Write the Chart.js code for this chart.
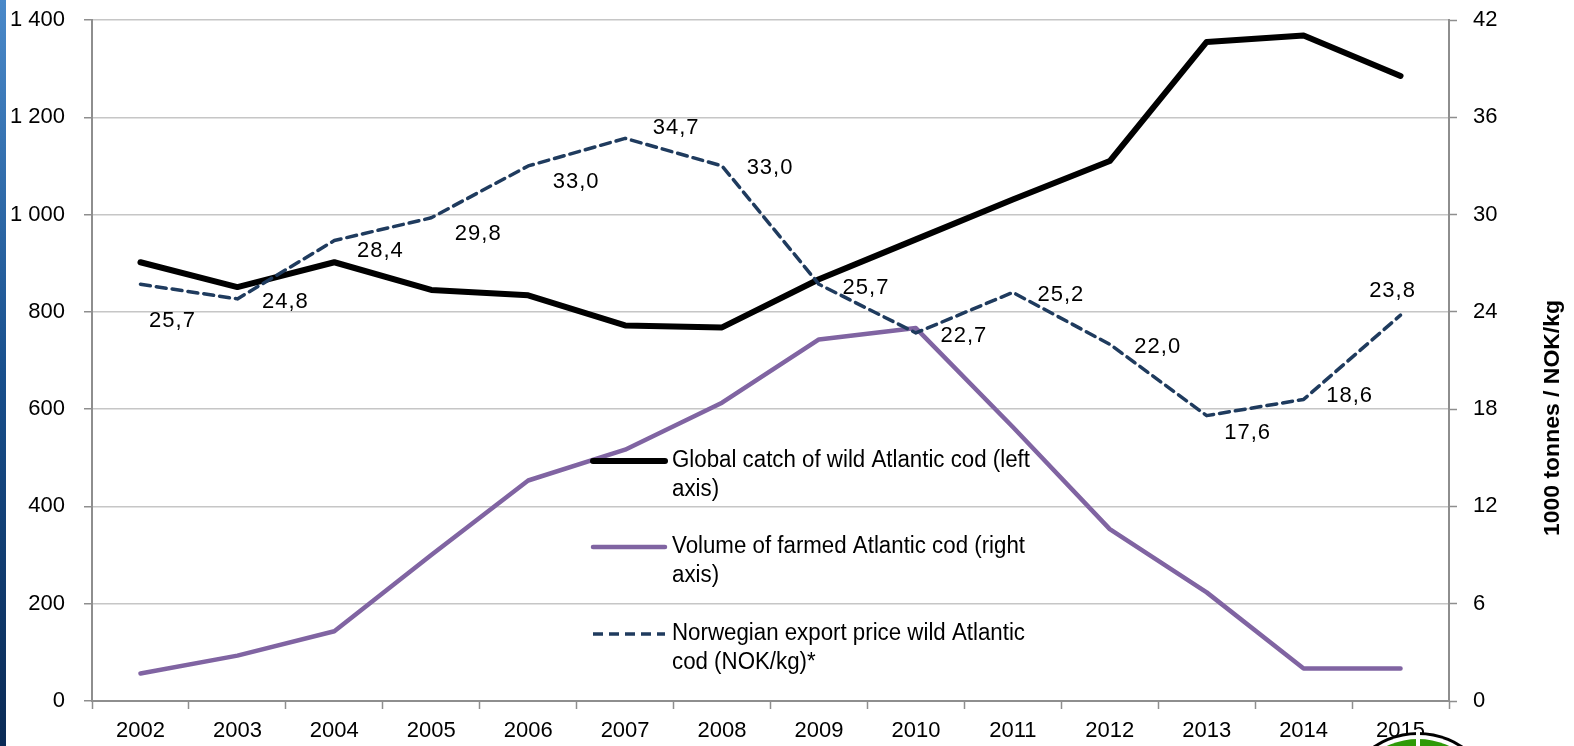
<!DOCTYPE html>
<html>
<head>
<meta charset="utf-8">
<script src="https://cdn.jsdelivr.net/npm/chart.js@4.4.1/dist/chart.umd.min.js"></script>
<style>
    html, body { margin: 0; padding: 0; background: #fff; }
    #wrap { position: relative; width: 1574px; height: 746px; overflow: hidden; }
    #wrap canvas { position: absolute; left: 0; top: 0; }
    #edge { position: absolute; left: 0; top: 0; width: 6px; height: 746px;
            background: linear-gradient(#4a89c9, #184f8c 50%, #0a2a55); }
</style>
</head>
<body>
<div id="wrap">
    <canvas id="chart" width="1574" height="746"></canvas>
    <div id="edge"></div>
</div>
<script>
// years on the x axis
const years = ['2002', '2003', '2004', '2005', '2006', '2007', '2008',
               '2009', '2010', '2011', '2012', '2013', '2014', '2015'];

// global catch of wild Atlantic cod, 1000 tonnes (left axis)
const wildCatch = [902, 851, 902, 845, 834, 772, 768, 867, 949, 1031, 1110, 1355, 1368, 1285];

// volume of farmed Atlantic cod, 1000 tonnes (right axis)
const farmedVolume = [1.7, 2.8, 4.3, 9.0, 13.6, 15.5, 18.4, 22.3, 23.0, 16.9, 10.6, 6.7, 2.0, 2.0];

// Norwegian export price wild Atlantic cod, NOK/kg (right axis)
const exportPrice = [25.7, 24.8, 28.4, 29.8, 33.0, 34.7, 33.0, 25.7, 22.7, 25.2, 22.0, 17.6, 18.6, 23.8];

const leftTicks = [0, 200, 400, 600, 800, 1000, 1200, 1400];
const rightTicks = [0, 6, 12, 18, 24, 30, 36, 42];

const legendItems = [
    ['Global catch of wild Atlantic cod (left', 'axis)'],
    ['Volume of farmed Atlantic cod (right', 'axis)'],
    ['Norwegian export price wild Atlantic', 'cod (NOK/kg)*'],
];

const FONT = "'Liberation Sans', Arial, sans-serif";
const GRID = '#c6c6c6';
const AXIS = '#8e8e8e';

// where each price label sits relative to its point
const priceLabelOffsets = [
    [32, 37], [48, 3], [46, 10], [47, 16], [48, 16], [51, -10], [48, 2],
    [47, 4], [48, 3], [48, 3], [48, 3], [41, 17], [46, -3], [-8, -24],
];

const fmtThousands = (v) => String(v).replace(/\B(?=(\d{3})+(?!\d))/g, ' ');

// keep the tick-label overhang from pushing the plot area down
function fixY(width) {
    return (scale) => {
        scale.width = width;
        scale.paddingTop = 0;
        scale.paddingBottom = 0;
    };
}

const priceLabels = {
    id: 'priceLabels',
    afterDatasetsDraw(chart) {
        const ctx = chart.ctx;
        const meta = chart.getDatasetMeta(2);
        ctx.save();
        ctx.font = '22px ' + FONT;
        ctx.fillStyle = '#000';
        ctx.textAlign = 'center';
        ctx.textBaseline = 'middle';
        if ('letterSpacing' in ctx) ctx.letterSpacing = '1px';
        meta.data.forEach((pt, i) => {
            const [dx, dy] = priceLabelOffsets[i];
            ctx.fillText(exportPrice[i].toFixed(1).replace('.', ','), pt.x + dx, pt.y + dy);
        });
        ctx.restore();
    },
};

const innerLegend = {
    id: 'innerLegend',
    afterDatasetsDraw(chart) {
        const ctx = chart.ctx;
        const x0 = 593, x1 = 665, tx = 672;
        const rows = [461, 547, 634];
        ctx.save();
        ctx.font = '23px ' + FONT;
        const scaleX = 353 / ctx.measureText(legendItems[2][0]).width;
        chart.data.datasets.forEach((ds, i) => {
            const y = rows[i];
            ctx.save();
            ctx.strokeStyle = ds.borderColor;
            ctx.lineWidth = ds.borderWidth;
            ctx.lineCap = ds.borderDash ? 'butt' : 'round';
            ctx.setLineDash(ds.borderDash || []);
            ctx.beginPath();
            ctx.moveTo(x0, y);
            ctx.lineTo(x1, y);
            ctx.stroke();
            ctx.restore();

            ctx.save();
            ctx.translate(tx, y);
            ctx.scale(scaleX, 1);
            ctx.fillStyle = '#000';
            ctx.textBaseline = 'middle';
            ctx.fillText(legendItems[i][0], 0, 0);
            ctx.fillText(legendItems[i][1], 0, 29);
            ctx.restore();
        });
        ctx.restore();
    },
};

const rightTitle = {
    id: 'rightTitle',
    afterDraw(chart) {
        const ctx = chart.ctx;
        const text = '1000 tonnes / NOK/kg';
        ctx.save();
        ctx.translate(1553, 418);
        ctx.rotate(-Math.PI / 2);
        ctx.font = 'bold 22px ' + FONT;
        const s = 236 / ctx.measureText(text).width;
        ctx.scale(s, 1);
        ctx.fillStyle = '#000';
        ctx.textAlign = 'center';
        ctx.textBaseline = 'middle';
        ctx.fillText(text, 0, 0);
        ctx.restore();
    },
};

// bit of the round logo peeking in at the bottom right
const cornerLogo = {
    id: 'cornerLogo',
    beforeDatasetsDraw(chart) {
        const ctx = chart.ctx;
        const cx = 1418, cy = 812, r = 80;
        ctx.save();
        ctx.beginPath();
        ctx.arc(cx, cy, r, 0, Math.PI * 2);
        ctx.fillStyle = '#000';
        ctx.fill();
        ctx.beginPath();
        ctx.arc(cx, cy, r - 3, 0, Math.PI * 2);
        ctx.fillStyle = '#fff';
        ctx.fill();
        ctx.beginPath();
        ctx.arc(cx, cy, r - 7, 0, Math.PI * 2);
        ctx.fillStyle = '#2f9a08';
        ctx.fill();
        ctx.fillStyle = '#fff';
        ctx.fillRect(cx - 2, cy - r, 4, r);
        ctx.restore();
    },
};

new Chart(document.getElementById('chart'), {
    type: 'line',
    data: {
        labels: years,
        datasets: [
            {
                label: 'Global catch of wild Atlantic cod (left axis)',
                data: wildCatch,
                yAxisID: 'y',
                borderColor: '#000000',
                borderWidth: 6,
                order: 3,
            },
            {
                label: 'Volume of farmed Atlantic cod (right axis)',
                data: farmedVolume,
                yAxisID: 'y2',
                borderColor: '#8064a2',
                borderWidth: 4.5,
                order: 2,
            },
            {
                label: 'Norwegian export price wild Atlantic cod (NOK/kg)*',
                data: exportPrice,
                yAxisID: 'y2',
                borderColor: '#1f3b5e',
                borderWidth: 3.5,
                borderDash: [10, 6],
                order: 1,
            },
        ],
    },
    options: {
        responsive: false,
        animation: false,
        devicePixelRatio: 1,
        layout: { padding: { top: 20, right: 0, bottom: 0, left: 0 } },
        elements: {
            point: { radius: 0, hoverRadius: 0 },
            line: { tension: 0, fill: false, borderJoinStyle: 'round', borderCapStyle: 'round' },
        },
        plugins: {
            legend: { display: false },
            tooltip: { enabled: false },
        },
        scales: {
            x: {
                type: 'category',
                offset: true,
                afterFit(scale) { scale.height = 45; },
                grid: { offset: true, drawOnChartArea: false, tickLength: 8, tickColor: AXIS, tickWidth: 1.5 },
                border: { color: AXIS, width: 2 },
                ticks: { color: '#000', font: { family: FONT, size: 22 }, padding: 9, maxRotation: 0, autoSkip: false },
            },
            y: {
                position: 'left',
                min: 0,
                max: 1400,
                afterFit: fixY(92),
                afterBuildTicks(scale) { scale.ticks = leftTicks.map((v) => ({ value: v })); },
                grid: { color: GRID, lineWidth: 1.5, tickLength: 8, tickColor: AXIS, tickWidth: 1.5 },
                border: { color: AXIS, width: 2 },
                ticks: {
                    color: '#000',
                    font: { family: FONT, size: 22 },
                    padding: 19,
                    callback: (v) => fmtThousands(v),
                },
            },
            y2: {
                position: 'right',
                min: 0,
                max: 42,
                afterFit: fixY(125),
                afterBuildTicks(scale) { scale.ticks = rightTicks.map((v) => ({ value: v })); },
                grid: { drawOnChartArea: false, tickLength: 8, tickColor: AXIS, tickWidth: 1.5 },
                border: { color: AXIS, width: 2 },
                ticks: { color: '#000', font: { family: FONT, size: 22 }, padding: 16 },
            },
        },
    },
    plugins: [cornerLogo, priceLabels, innerLegend, rightTitle],
});
</script>
</body>
</html>
